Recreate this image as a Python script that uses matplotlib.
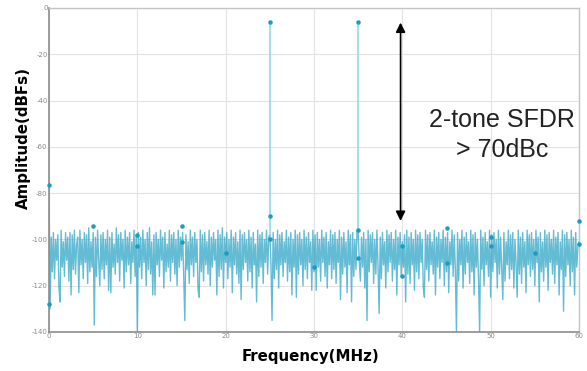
import numpy as np
import matplotlib
matplotlib.use("Agg")
import matplotlib.pyplot as plt

plt.rcParams['axes.unicode_minus'] = False

# spectrum noise floor, 8 points per MHz, 0..60 MHz
noise_db = [
    -76, -130, -99, -114, -97, -117, -100, -109, -98, -121, -127, -96, -112, -101, -116, -97,
    -109, -99, -118, -97, -124, -98, -113, -96, -115, -102, -99, -123, -96, -111, -100, -117,
    -97, -110, -98, -119, -95, -114, -101, -112, -97, -137, -99, -116, -96, -109, -120, -98,
    -113, -97, -117, -100, -111, -96, -122, -99, -123, -97, -112, -102, -115, -95, -110, -98,
    -118, -97, -109, -100, -121, -96, -114, -99, -111, -97, -119, -101, -110, -96, -116, -98,
    -140, -97, -112, -99, -117, -96, -110, -100, -120, -97, -113, -95, -115, -101, -124, -98,
    -124, -97, -111, -100, -116, -96, -109, -99, -121, -97, -114, -102, -112, -96, -118, -98,
    -110, -97, -115, -100, -120, -96, -112, -99, -109, -97, -117, -135, -98, -113, -101, -119,
    -96, -111, -99, -116, -97, -110, -100, -122, -125, -96, -114, -98, -118, -97, -111, -101,
    -115, -96, -120, -99, -112, -97, -109, -100, -124, -96, -116, -98, -113, -95, -121, -99,
    -110, -97, -117, -100, -112, -96, -123, -99, -111, -97, -115, -101, -119, -96, -126, -98,
    -113, -97, -110, -100, -118, -96, -114, -99, -121, -97, -111, -102, -127, -96, -116, -98,
    -112, -97, -119, -100, -110, -96, -115, -99, -98, -110, -135, -97, -117, -100, -113, -96,
    -121, -98, -111, -97, -116, -101, -110, -96, -118, -99, -114, -97, -124, -100, -112, -96,
    -125, -98, -115, -97, -111, -100, -120, -96, -113, -99, -117, -97, -110, -101, -122, -96,
    -114, -98, -122, -97, -112, -100, -118, -96, -110, -99, -116, -97, -121, -101, -111, -96,
    -117, -98, -113, -97, -119, -100, -110, -96, -126, -99, -115, -97, -112, -101, -123, -96,
    -111, -98, -127, -97, -116, -100, -113, -96, -97, -109, -118, -99, -112, -97, -121, -100,
    -135, -96, -114, -98, -110, -97, -119, -100, -115, -96, -112, -132, -99, -117, -97, -111,
    -101, -121, -96, -114, -98, -110, -97, -118, -100, -113, -96, -124, -99, -111, -97, -116,
    -101, -112, -98, -127, -96, -115, -99, -119, -97, -111, -100, -122, -96, -114, -98, -117,
    -97, -110, -100, -121, -125, -96, -113, -98, -118, -97, -111, -101, -115, -96, -124, -99,
    -112, -97, -117, -100, -110, -96, -120, -99, -114, -97, -123, -101, -111, -96, -116, -98,
    -113, -140, -97, -118, -100, -111, -96, -121, -99, -115, -97, -110, -101, -119, -96, -114,
    -98, -124, -97, -112, -100, -117, -140, -96, -113, -99, -120, -97, -111, -101, -116, -96,
    -125, -98, -114, -97, -110, -100, -121, -96, -115, -99, -112, -126, -97, -118, -101, -111,
    -96, -117, -98, -113, -97, -121, -100, -110, -125, -96, -115, -99, -119, -97, -112, -101,
    -123, -96, -111, -98, -116, -97, -113, -100, -120, -96, -110, -99, -127, -97, -114, -101,
    -118, -96, -112, -98, -122, -97, -110, -100, -115, -96, -119, -99, -111, -97, -124, -101,
    -113, -96, -131, -98, -116, -97, -111, -100, -120, -96, -114, -99, -124, -97, -112, -103,
    -101,
]
noise_freq = np.linspace(0, 60, len(noise_db))

# two input tones
tone_freq = [25, 35]
tone_db = [-6, -6]
tone_base = [-98, -97]

# marked bins (harmonics / spurs)
marker_freq = [0, 0, 5, 10, 10, 15, 15, 20, 25, 25, 30, 35, 35,
               40, 40, 45, 45, 50, 50, 55, 60, 60]
marker_db = [-76.5, -128, -94, -98, -103, -94, -101, -106, -90, -100, -112, -96, -108,
             -103, -116, -95, -110, -99, -103, -106, -92, -102]

x_ticks = [0, 10, 20, 30, 40, 50, 60]
y_ticks = [0, -20, -40, -60, -80, -100, -120, -140]

fig = plt.figure(figsize=(5.87, 3.71), dpi=100)
ax = fig.add_axes([49 / 587, 1 - 332 / 371, 530 / 587, 324 / 371])

ax.plot(noise_freq, noise_db, color='#22a0c2', lw=1.0, alpha=0.7, zorder=2)
ax.vlines(tone_freq, tone_base, tone_db, color='#8fd3e6', lw=1.1, zorder=2)
ax.scatter(tone_freq, tone_db, s=5, color='#1b9dc0', zorder=3)
ax.scatter(marker_freq, marker_db, s=5, color='#1b9dc0', zorder=3, clip_on=False)

ax.set_xlim(0, 60)
ax.set_ylim(-140, 0)
ax.set_xticks(x_ticks)
ax.set_yticks(y_ticks)
ax.set_xticklabels([str(v) for v in x_ticks])
ax.set_yticklabels([str(v) for v in y_ticks])
ax.tick_params(length=0, labelsize=5, labelcolor='#8a8a8a', pad=1)
ax.grid(color='#e2e2e2', lw=0.8, zorder=0)
ax.set_axisbelow(True)
for s in ['top', 'right']:
    ax.spines[s].set_color('#c4c4c4')
    ax.spines[s].set_linewidth(1)
for s in ['left', 'bottom']:
    ax.spines[s].set_color('#8c8c8c')
    ax.spines[s].set_linewidth(1.2)

ax.set_xlabel('Frequency(MHz)', fontsize=10.8, fontweight='bold', family='DejaVu Sans')
ax.set_ylabel('Amplitude(dBFs)', fontsize=10.8, fontweight='bold', family='DejaVu Sans')
ax.xaxis.set_label_coords(0.494, -0.077)
ax.yaxis.set_label_coords(-0.049, 0.60)
ax.xaxis.label.set_va('center')
ax.yaxis.label.set_va('center')

# SFDR arrow and note
ax.annotate('', xy=(39.8, -6.3), xytext=(39.8, -92),
            arrowprops=dict(arrowstyle='<|-|>', color='black', lw=1.2,
                            mutation_scale=14, shrinkA=0, shrinkB=0))
ax.text(51.3, -55, '2-tone SFDR\n> 70dBc', ha='center', va='center',
        fontsize=18, family='Liberation Sans', color='#222222', linespacing=1.3)

fig.savefig('out.png', dpi=100)
